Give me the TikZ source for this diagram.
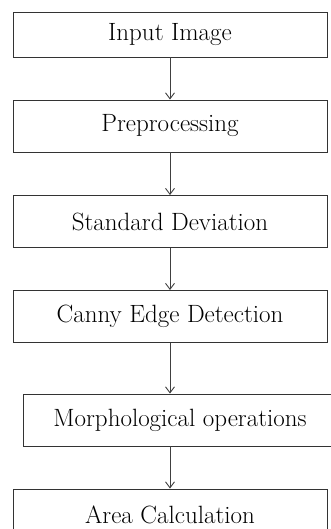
\documentclass[tikz,border=0pt]{standalone}
\usetikzlibrary{arrows.meta}
\tikzset{
  stage/.style={draw=black!80, line width=0.9pt, minimum width=314pt, minimum height=52pt, inner sep=1pt, font=\fontsize{25}{29}\selectfont},
  flow/.style={draw=black!75, line width=0.9pt, -{Straight Barb[length=6pt, width=9pt]}}
}
\begin{document}
\begin{tikzpicture}[x=1pt, y=-1pt]
      \useasboundingbox (0,0) rectangle (330,529);
      \node[stage, minimum height=45pt] (img) at (170,34.5) {Input Image};
      \node[stage] (pre) at (170,126) {Preprocessing};
      \node[stage] (std) at (170,221.5) {Standard Deviation};
      \node[stage] (can) at (170,316.5) {Canny Edge Detection};
      \node[stage] (mor) at (180,420) {Morphological operations};
      \node[stage] (are) at (170,515) {Area Calculation};
      \draw[flow] (img) -- (pre);
      \draw[flow] (pre) -- (std);
      \draw[flow] (std) -- (can);
      \draw[flow] (can.south) -- (can.south |- mor.north);
      \draw[flow] (mor.south -| are.north) -- (are);
   \end{tikzpicture}
\end{document}
